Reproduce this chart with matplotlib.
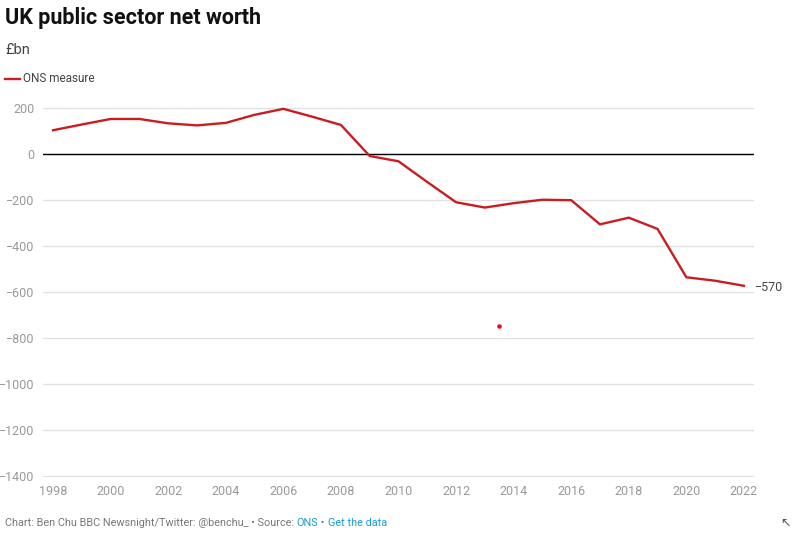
import matplotlib.pyplot as plt

plt.rcParams['font.family'] = ['Roboto', 'DejaVu Sans']

years = list(range(1998, 2023))
net_worth = [103, 128, 152, 152, 133, 124, 135, 170, 196, 162, 126, -9,
             -32, -122, -210, -233, -214, -199, -201, -306, -277, -326,
             -536, -551, -573]
stray_x = [2013.49]
stray_y = [-748]
y_ticks = [200, 0, -200, -400, -600, -800, -1000, -1200, -1400]
x_ticks = list(range(1998, 2023, 2))

red = '#c91d22'
grey = '#999999'

fig = plt.figure(figsize=(7.93, 5.33), dpi=100)
ax = fig.add_axes([43 / 793, 1 - 477 / 533, 711 / 793, 370 / 533])

ax.plot(years, net_worth, color=red, lw=1.7, solid_joinstyle='miter', zorder=3)
ax.scatter(stray_x, stray_y, color='#e0101a', s=5, zorder=3)
ax.axhline(0, color='black', lw=1, zorder=2)

ax.set_xlim(1997.65, 2022.35)
ax.set_ylim(-1404, 204)
ax.set_yticks(y_ticks)
ax.set_yticklabels([str(v).replace('-', '\u2212') for v in y_ticks])
ax.set_xticks(x_ticks)
ax.grid(axis='y', color='#e2e2e2', lw=1, zorder=0)
ax.tick_params(length=0, colors=grey, labelsize=9)
ax.tick_params(axis='y', pad=6)
ax.tick_params(axis='x', pad=6)
for s in ax.spines.values():
    s.set_visible(False)

# end label
ax.annotate('\u2212570', xy=(years[-1], net_worth[-1]), xytext=(8, -1),
            textcoords='offset points', va='center', ha='left',
            fontsize=9, color='#444444')

fig.text(5 / 793, 1 - 18 / 533, 'UK public sector net worth', fontsize=15.5,
         fontweight='bold', color='#111111', va='center', ha='left')
fig.text(5 / 793, 1 - 50 / 533, '£bn', fontsize=10.5, color='#444444',
         va='center', ha='left')
fig.add_artist(plt.Line2D([5 / 793, 20 / 793], [1 - 79 / 533, 1 - 79 / 533],
                          color=red, lw=1.7))
fig.text(23 / 793, 1 - 79 / 533, 'ONS measure', fontsize=8.5, color='#444444',
         va='center', ha='left')

foot_y = 1 - 523 / 533
t = fig.text(5 / 793, foot_y, 'Chart: Ben Chu BBC Newsnight/Twitter: @benchu_ \u2022 Source: ',
             fontsize=7.8, color='#777777', va='center', ha='left')
fig.canvas.draw()
bb = t.get_window_extent()
x1 = bb.x1 / fig.bbox.width
t2 = fig.text(x1, foot_y, 'ONS', fontsize=7.8, color='#1a9bd1', va='center', ha='left')
fig.canvas.draw()
x2 = t2.get_window_extent().x1 / fig.bbox.width
t3 = fig.text(x2, foot_y, ' \u2022 ', fontsize=7.8, color='#777777', va='center', ha='left')
fig.canvas.draw()
x3 = t3.get_window_extent().x1 / fig.bbox.width
fig.text(x3, foot_y, 'Get the data', fontsize=7.8, color='#1a9bd1', va='center', ha='left')
fig.text(780 / 793, foot_y, '\u2196', fontsize=9, color='#555555', va='center', ha='left',
         family=['DejaVu Sans'])

fig.savefig('out.png', dpi=100)
